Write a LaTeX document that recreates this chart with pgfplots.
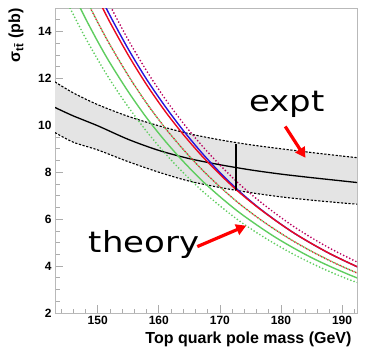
\documentclass[border=0pt]{standalone}
\usepackage{fontspec}
\setmainfont{Liberation Sans}
\newfontfamily\handfont{DejaVu Sans}
\usepackage{pgfplots}
\usepackage{pgfplotstable}
\pgfplotsset{compat=1.18}
\usepgfplotslibrary{fillbetween}
\usetikzlibrary{arrows.meta,calc}

\definecolor{thRed}{RGB}{235,10,30}
\definecolor{thBlue}{RGB}{40,20,220}
\definecolor{thMag}{RGB}{185,0,95}
\definecolor{thLow}{RGB}{215,45,45}
\definecolor{thGreen}{RGB}{95,205,95}
\definecolor{bandGray}{RGB}{228,228,228}

% measured cross section band
\pgfplotstableread{
m     c      up     lo
143   10.76  11.85  9.69
146   10.40  11.38  9.28
150   9.98   10.88  8.95
155   9.40   10.38  8.45
160   8.93   9.98   8.00
165   8.58   9.64   7.62
170   8.32   9.38   7.35
175   8.10   9.17   7.13
180   7.92   9.00   6.95
185   7.77   8.84   6.81
190   7.63   8.69   6.69
192.5 7.56   8.62   6.64
}\expt

% theory curves
\pgfplotstableread{
m    R      B      Mg     RL     G      GL
145  18.37  18.74  19.29  17.14  16.17  15.25
146  17.73  18.08  18.62  16.54  15.60  14.72
148  16.53  16.86  17.36  15.42  14.55  13.72
150  15.42  15.73  16.19  14.39  13.57  12.80
152  14.39  14.68  15.11  13.43  12.66  11.94
155  12.99  13.25  13.64  12.12  11.43  10.78
158  11.73  11.96  12.32  10.94  10.32  9.74
161  10.61  10.82  11.14  9.90   9.34   8.81
164  9.61   9.78   10.09  8.97   8.46   7.98
167  8.71   8.84   9.15   8.13   7.66   7.23
170  7.91   7.99   8.31   7.38   6.96   6.57
173  7.18   7.23   7.54   6.70   6.32   5.96
176  6.54   6.56   6.87   6.10   5.76   5.43
179  5.96   5.97   6.26   5.56   5.24   4.95
182  5.43   5.43   5.70   5.07   4.78   4.51
185  4.96   4.96   5.21   4.63   4.36   4.12
188  4.53   4.53   4.76   4.23   3.99   3.76
191  4.15   4.15   4.36   3.87   3.65   3.44
193  3.91   3.91   4.11   3.65   3.44   3.25
}\theory

\begin{document}
\begin{tikzpicture}
\begin{axis}[
  scale only axis, width=302pt, height=305pt,
  xmin=143, xmax=192.45, ymin=2, ymax=15,
  xtick={150,160,...,190}, ytick={2,4,...,14},
  minor xtick={144,146,...,192}, minor ytick={2.5,3,...,14.5},
  tick align=inside, xtick pos=bottom, ytick pos=left,
  major tick length=8pt, minor tick length=4.5pt,
  axis line style={gray!55, line width=0.8pt},
  tick style={gray!65, line width=0.7pt},
  ticklabel style={font=\bfseries\fontsize{12}{12}\selectfont},
  /pgf/number format/assume math mode=true,
  clip mode=individual,
  dots/.style={line width=1.9pt, line cap=round, dash pattern=on 0pt off 3.4pt},
]
  \coordinate (tl) at (rel axis cs:0,1);
  \coordinate (br) at (rel axis cs:1,0);

  \addplot[draw=none, name path=up] table[x=m, y=up] {\expt};
  \addplot[draw=none, name path=lo] table[x=m, y=lo] {\expt};
  \addplot[bandGray] fill between[of=up and lo];
  \addplot[black, line width=1.1pt, dash pattern=on 2.2pt off 1.6pt, smooth] table[x=m, y=up] {\expt};
  \addplot[black, line width=1.1pt, dash pattern=on 2.2pt off 1.6pt, smooth] table[x=m, y=lo] {\expt};
  \addplot[black, line width=1.3pt, smooth] table[x=m, y=c] {\expt};

  \addplot[thGreen, dots, smooth] table[x=m, y=GL] {\theory};
  \addplot[thGreen, line width=1.4pt, smooth] table[x=m, y=G] {\theory};
  \addplot[thGreen, dots, dash phase=1.7pt, smooth] table[x=m, y=RL] {\theory};
  \addplot[thLow, dots, smooth] table[x=m, y=RL] {\theory};
  \addplot[thBlue, line width=1.4pt, smooth] table[x=m, y=B] {\theory};
  \addplot[thRed, line width=1.4pt, smooth] table[x=m, y=R] {\theory};
  \addplot[thMag, dots, smooth] table[x=m, y=Mg] {\theory};

  \addplot[black, line width=1.8pt] coordinates {(172.6,7.25) (172.6,9.2)};

  \node[anchor=base, font=\handfont\fontsize{29}{29}\selectfont, xscale=1.17] at (axis cs:181.0,10.59) {expt};
  \node[anchor=base, font=\handfont\fontsize{29}{29}\selectfont, xscale=1.17] at (axis cs:157.6,4.56) {theory};
  \draw[red, line width=3.2pt, -{Triangle[length=10pt,width=11pt]}] (axis cs:180.7,9.95) -- (axis cs:184.0,8.62);
  \draw[red, line width=3.2pt, -{Triangle[length=10pt,width=11pt]}] (axis cs:166.3,4.83) -- (axis cs:174.3,5.72);
\end{axis}
\node[rotate=90, anchor=north east, font=\bfseries\fontsize{16}{16}\selectfont] at ($(tl)+(-50pt,3pt)$) {σ\textsubscript{t\={t}} (pb)};
\node[anchor=base east, font=\bfseries\fontsize{16}{16}\selectfont] at ($(br)+(-2pt,-30pt)$) {Top quark pole mass (GeV)};
\path ($(tl)+(-55pt,8pt)$) rectangle ($(br)+(23pt,-41pt)$);
\end{tikzpicture}
\end{document}
